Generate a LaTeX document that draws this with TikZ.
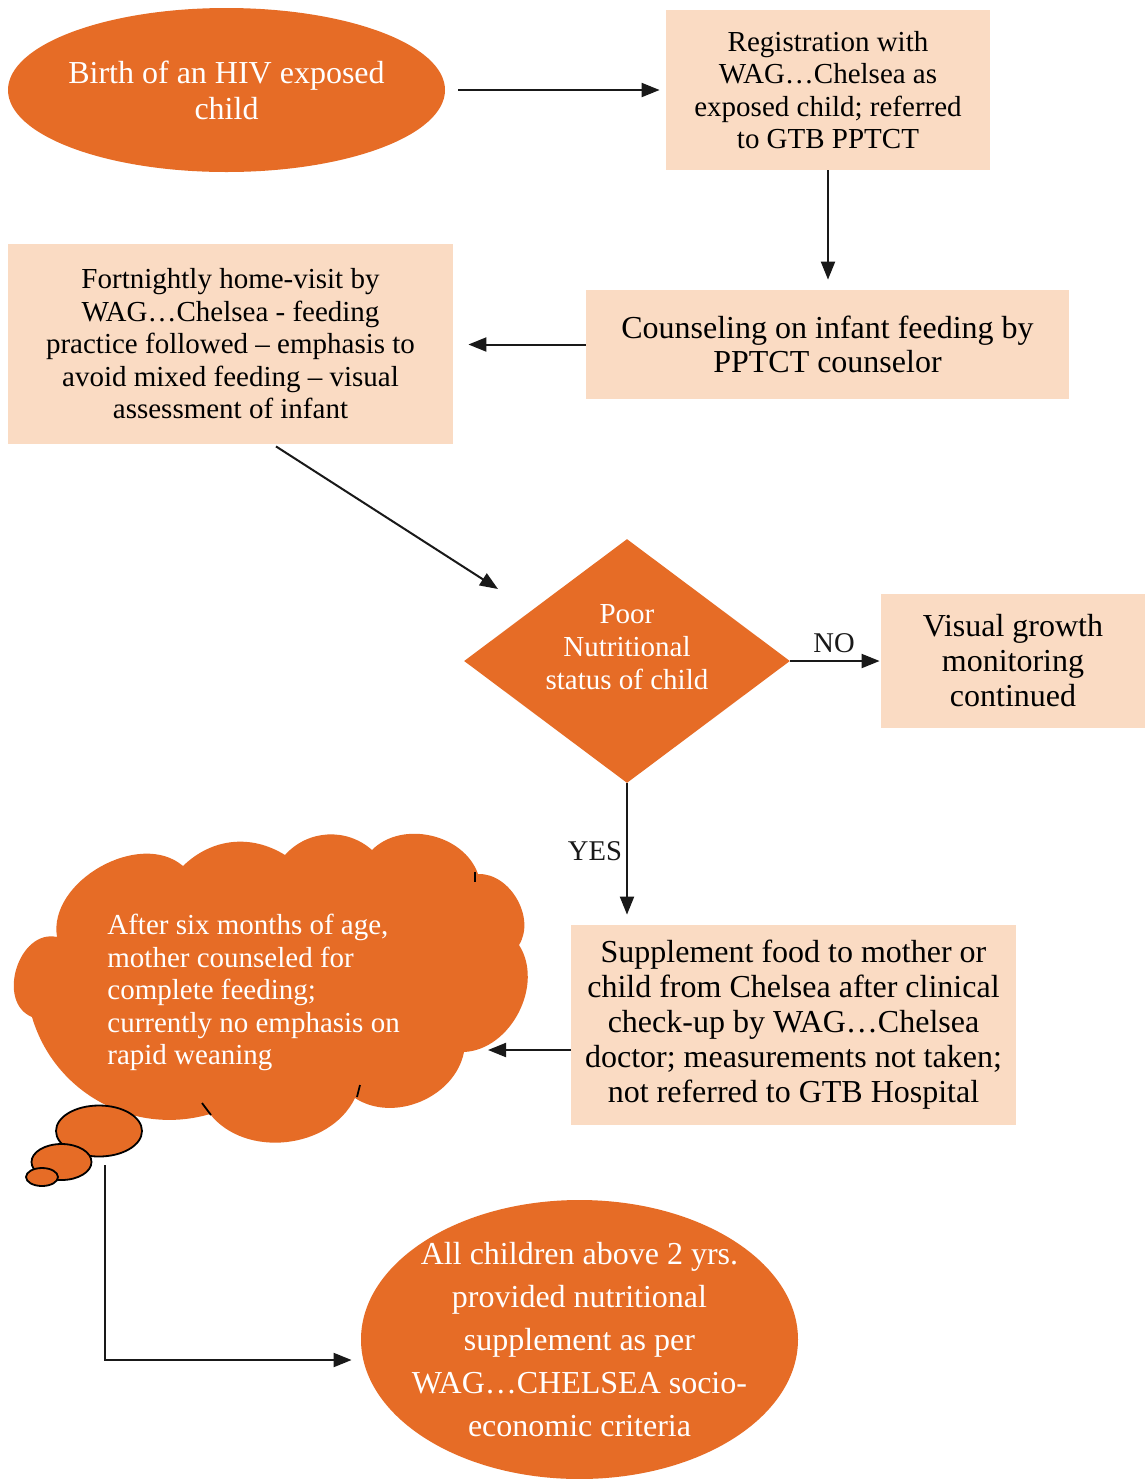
\documentclass[tikz,border=0pt]{standalone}
\usepackage{fontspec}
\setmainfont{Liberation Serif}
\usetikzlibrary{shapes.geometric,arrows.meta}
\definecolor{orng}{RGB}{230,108,38}
\definecolor{peach}{RGB}{250,219,195}
\begin{document}
\begin{tikzpicture}[x=0.5pt,y=-0.5pt,
  box/.style={fill=peach, inner sep=0pt, align=center, text=black},
  oval/.style={ellipse, fill=orng, inner xsep=-10pt, inner ysep=-8pt, align=center, text=white},
  arr/.style={-{Triangle[length=9pt,width=7pt]}, line width=1pt, black!90},
  fsmall/.style={font=\fontsize{14.5}{16.25}\selectfont},
  fbig/.style={font=\fontsize{16}{17.5}\selectfont},
  lbl/.style={font=\fontsize{14.3}{16}\selectfont, inner sep=0pt, text=black!90}]
\fill[white] (0,0) rectangle (1145,1479);
\useasboundingbox (0,0) rectangle (1145,1479);

% nodes
\node[oval, font=\fontsize{16}{18}\selectfont, minimum width=218.5pt, minimum height=82pt] (birth) at (226.5,90) {Birth of an HIV exposed\\child};
\node[box, fsmall, minimum width=162pt, minimum height=80pt] (reg) at (828,90) {Registration with\\WAG…Chelsea as\\exposed child; referred\\to GTB PPTCT};
\node[box, font=\fontsize{16}{17}\selectfont, minimum width=241.5pt, minimum height=54.5pt] (couns) at (827.5,344.5) {Counseling on infant feeding by\\PPTCT counselor};
\node[box, fsmall, minimum width=222.5pt, minimum height=100pt] (fort) at (230.5,344) {Fortnightly home-visit by\\WAG…Chelsea - feeding\\practice followed – emphasis to\\avoid mixed feeding – visual\\assessment of infant};
\node[diamond, fill=orng, minimum width=163pt, minimum height=122pt, inner sep=0pt] (dia) at (627,661) {};
\node[text=white, font=\fontsize{14.5}{16.5}\selectfont, align=center, inner sep=0pt] (diatxt) at (627,647) {Poor\\Nutritional\\status of child};
\node[box, fbig, minimum width=132pt, minimum height=67pt] (vis) at (1013,661) {Visual growth\\monitoring\\continued};
\node[box, fbig, minimum width=222.5pt, minimum height=100pt] (supp) at (793.5,1025) {Supplement food to mother or\\child from Chelsea after clinical\\check-up by WAG…Chelsea\\doctor; measurements not taken;\\not referred to GTB Hospital};
\node[oval, font=\fontsize{16}{21.5}\selectfont, minimum width=218.5pt, minimum height=139.5pt] (allch) at (579.5,1339.5) {All children above 2 yrs.\\provided nutritional\\supplement as per\\WAG…CHELSEA socio-\\economic criteria};

% cloud
\fill[orng] (57,937) to[bend left=70] (183,866) to[bend left=38] (285,855)
  to[bend left=45] (372,850) to[bend left=58] (478,874) to[bend left=62] (519,945)
  to[bend left=60] (464,1052) to[bend left=56] (355,1098) to[bend left=58] (210,1114)
  to[bend left=45] (32,1017) to[bend left=85, looseness=1.2] (57,937) -- cycle;
\draw[line width=0.9pt] (475,872) -- (475,882);
\draw[line width=0.9pt] (360,1085) -- (357,1097);
\draw[line width=0.9pt] (202,1103) -- (211,1115);
\draw[fill=orng, line width=0.9pt] (99,1131) ellipse [x radius=21.5pt, y radius=12.75pt];
\draw[fill=orng, line width=0.9pt] (61.5,1162) ellipse [x radius=15pt, y radius=9pt];
\draw[fill=orng, line width=0.9pt] (42,1177) ellipse [x radius=8pt, y radius=4.5pt];
\node[text=white, fsmall, align=left, anchor=north west, inner sep=0pt] (cloudtxt) at (107,914) {After six months of age,\\mother counseled for\\complete feeding;\\currently no emphasis on\\rapid weaning};

% coordinates
\coordinate (diagend) at (498,589);
\coordinate (cloudR) at (488,1050);
\coordinate (lstart) at (105,1165);

% connectors
\draw[arr, shorten <=6.5pt, shorten >=3pt] (birth.east) -- (reg.west);
\draw[arr, shorten >=5pt] (reg.south) -- (reg.south |- couns.north);
\draw[arr, shorten >=7.5pt] (couns.west) -- (couns.west -| fort.east);
\draw[arr] ([xshift=22.75pt,yshift=-1pt]fort.south) -- (diagend);
\draw[arr, shorten >=0.5pt] (dia.east) -- (vis.west);
\draw[arr, shorten >=5pt] (dia.south) -- (dia.south |- supp.north);
\draw[arr] ([yshift=-12.5pt]supp.west) -- (cloudR);
\draw[arr] (lstart) |- ([xshift=-4.5pt,yshift=-10.25pt]allch.west);

\node[lbl] (nolbl) at (834,643) {NO};
\node[lbl] (yeslbl) at (595,851) {YES};
\end{tikzpicture}
\end{document}
